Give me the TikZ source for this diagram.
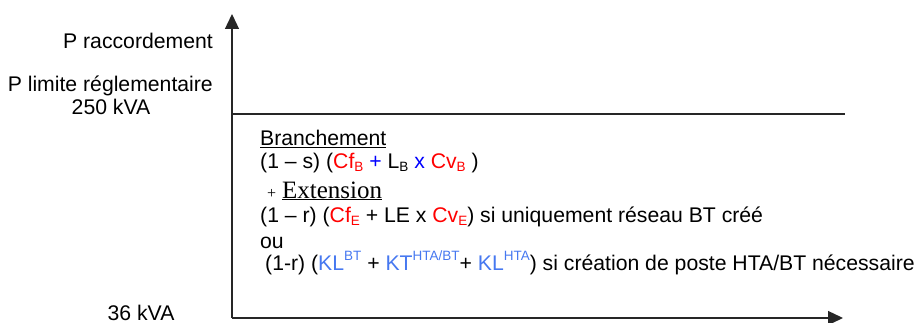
\documentclass[tikz,border=0pt]{standalone}
\usepackage{fontspec}
\setmainfont{Liberation Sans}
\newfontfamily\tms{Liberation Serif}
\usetikzlibrary{arrows.meta}
\definecolor{lb}{RGB}{70,120,240}
\newcommand\sbx[1]{\raisebox{-0.3ex}{\fontsize{13.5}{13.5}\selectfont #1}}
\newcommand\spx[1]{\raisebox{0.85ex}{\fontsize{13.5}{13.5}\selectfont #1}}
\tikzset{
  lbl/.style={inner sep=0pt, font=\fontsize{21.2}{24}\selectfont},
  axis/.style={line width=1.3pt, draw=black!85, -{Triangle[length=15pt,width=14pt]}},
  limline/.style={line width=1.3pt, draw=black!85}
}
\begin{document}
\begin{tikzpicture}[x=1pt,y=-1pt]
\useasboundingbox (0,0) rectangle (920,323);
\coordinate (O) at (232,318);
\coordinate (ytip) at (232,14);
\coordinate (xtip) at (843,318);
\coordinate (l1) at (232,114);
\coordinate (l2) at (845,114);
\draw[axis] (O) -- (ytip);
\draw[axis] (O) -- (xtip);
\draw[limline] (l1) -- (l2);
\node[lbl, anchor=base east] (praccord) at (213,49) {P raccordement};
\node[lbl, anchor=base east] (plimite) at (213,92) {P limite réglementaire};
\node[lbl, anchor=base] (p250) at (111,115) {250 kVA};
\node[lbl, anchor=base] (p36) at (141,320) {36 kVA};
\node[lbl, anchor=base west] (t1) at (260,146) {\underline{Branchement}};
\node[lbl, anchor=base west] (t2) at (260,168) {(1 – s) ({\color{red}Cf\sbx{B}} {\color{blue}+} L\sbx{B} {\color{blue}x} {\color{red}Cv\sbx{B}} )};
\node[lbl, anchor=base west] (t3) at (267,198) {{\fontsize{16}{16}\tms +} {\fontsize{25}{25}\tms\underline{Extension}}};
\node[lbl, anchor=base west] (t4) at (260,222) {(1 – r) ({\color{red}Cf\sbx{E}} + LE x {\color{red}Cv\sbx{E}}) si uniquement réseau BT créé};
\node[lbl, anchor=base west] (t5) at (260,248) {ou};
\node[lbl, anchor=base west] (t6) at (265,270) {(1-r) ({\color{lb}KL\spx{BT}} + {\color{lb}KT\spx{HTA/BT}}+ {\color{lb}KL\spx{HTA}}) si création de poste HTA/BT nécessaire};
\end{tikzpicture}
\end{document}
